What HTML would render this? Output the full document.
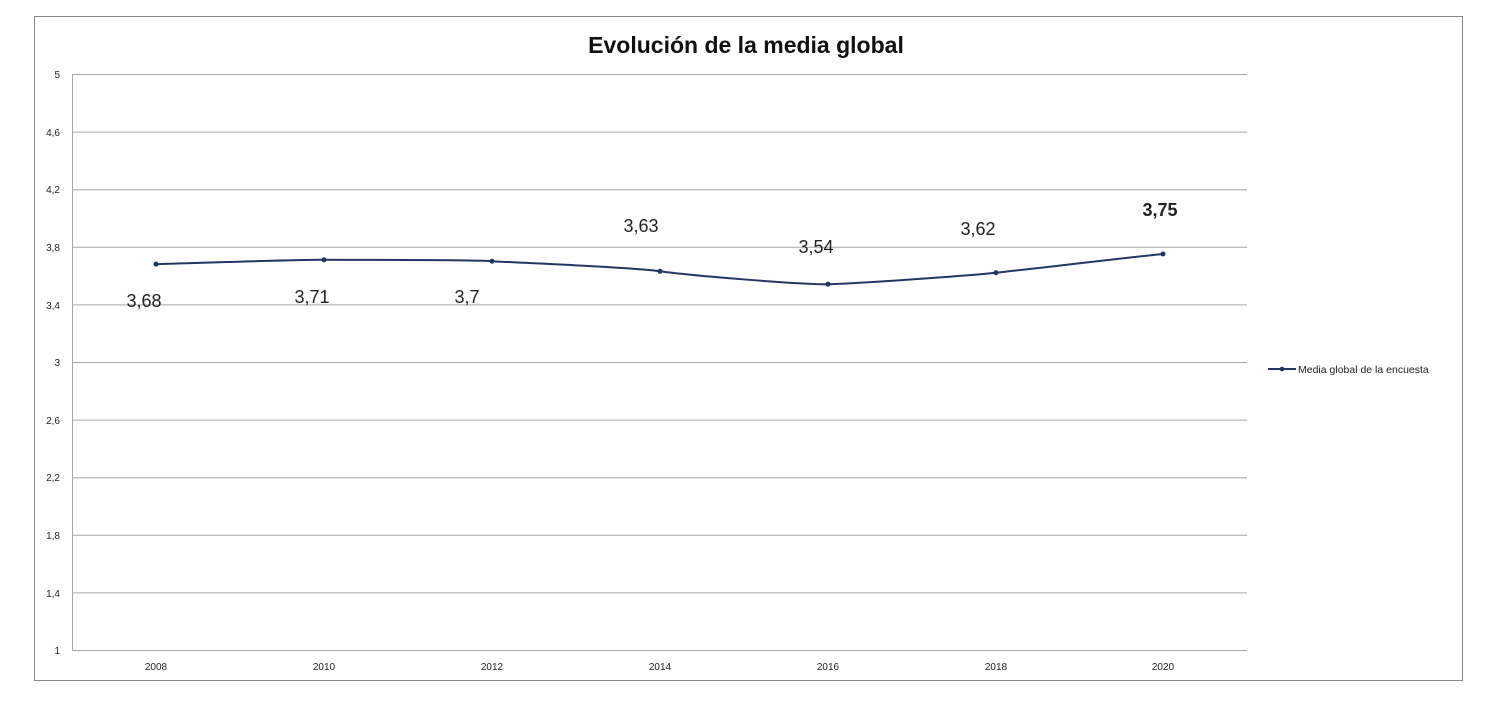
<!DOCTYPE html>
<html><head><meta charset="utf-8"><style>body{margin:0;background:#fff}</style></head><body>
<svg width="1500" height="700" xmlns="http://www.w3.org/2000/svg" font-family="Liberation Sans, sans-serif">
<rect x="0" y="0" width="1500" height="700" fill="#fff"/>
<rect x="34.5" y="16.5" width="1428" height="664" fill="none" stroke="#888" stroke-width="1"/>
<text x="746" y="53" font-size="23" font-weight="bold" text-anchor="middle" fill="#111">Evolución de la media global</text>
<g stroke="#a6a6a6" stroke-width="1">
<line x1="72" y1="74.5" x2="1247" y2="74.5"/>
<line x1="72" y1="132.1" x2="1247" y2="132.1"/>
<line x1="72" y1="189.7" x2="1247" y2="189.7"/>
<line x1="72" y1="247.3" x2="1247" y2="247.3"/>
<line x1="72" y1="304.9" x2="1247" y2="304.9"/>
<line x1="72" y1="362.5" x2="1247" y2="362.5"/>
<line x1="72" y1="420.1" x2="1247" y2="420.1"/>
<line x1="72" y1="477.7" x2="1247" y2="477.7"/>
<line x1="72" y1="535.3" x2="1247" y2="535.3"/>
<line x1="72" y1="592.9" x2="1247" y2="592.9"/>
<line x1="72" y1="650.5" x2="1247" y2="650.5"/>
<line x1="72.5" y1="74" x2="72.5" y2="651"/>
</g>
<g font-size="10" fill="#222" text-anchor="end">
<text x="60" y="78">5</text><text x="60" y="136">4,6</text><text x="60" y="193">4,2</text><text x="60" y="251">3,8</text><text x="60" y="309">3,4</text><text x="60" y="366">3</text><text x="60" y="424">2,6</text><text x="60" y="481">2,2</text><text x="60" y="539">1,8</text><text x="60" y="597">1,4</text><text x="60" y="654">1</text>
</g>
<g font-size="10" fill="#222" text-anchor="middle">
<text x="156" y="670">2008</text><text x="324" y="670">2010</text><text x="492" y="670">2012</text><text x="660" y="670">2014</text><text x="828" y="670">2016</text><text x="996" y="670">2018</text><text x="1163" y="670">2020</text>
</g>
<path d="M156,264.1 C184,263.4 296,259.6 324,259.8 C352,260 464,259.6 492,261.2 C520,262.8 632,267.2 660,271.3 C688,275.4 800,284.6 828,284.2 C856,283.8 968,275.6 996,272.7 C1024,269.8 1135,256.6 1163,254" fill="none" stroke="#1f3864" stroke-width="2"/>
<g fill="#1f3864">
<circle cx="156" cy="264.1" r="2.5"/><circle cx="324" cy="259.8" r="2.5"/><circle cx="492" cy="261.2" r="2.5"/><circle cx="660" cy="271.3" r="2.5"/><circle cx="828" cy="284.2" r="2.5"/><circle cx="996" cy="272.7" r="2.5"/><circle cx="1163" cy="254" r="2.5"/>
</g>
<g font-size="18" fill="#222" text-anchor="middle">
<text x="144" y="307">3,68</text><text x="312" y="303">3,71</text><text x="467" y="303">3,7</text><text x="641" y="232">3,63</text><text x="816" y="253">3,54</text><text x="978" y="235">3,62</text><text x="1160" y="216" font-weight="bold">3,75</text>
</g>
<line x1="1268" y1="369" x2="1296" y2="369" stroke="#1f3864" stroke-width="2"/>
<circle cx="1282" cy="369" r="2.3" fill="#1f3864"/>
<text x="1298" y="373" font-size="10.5" fill="#222">Media global de la encuesta</text>
</svg>
</body></html>
